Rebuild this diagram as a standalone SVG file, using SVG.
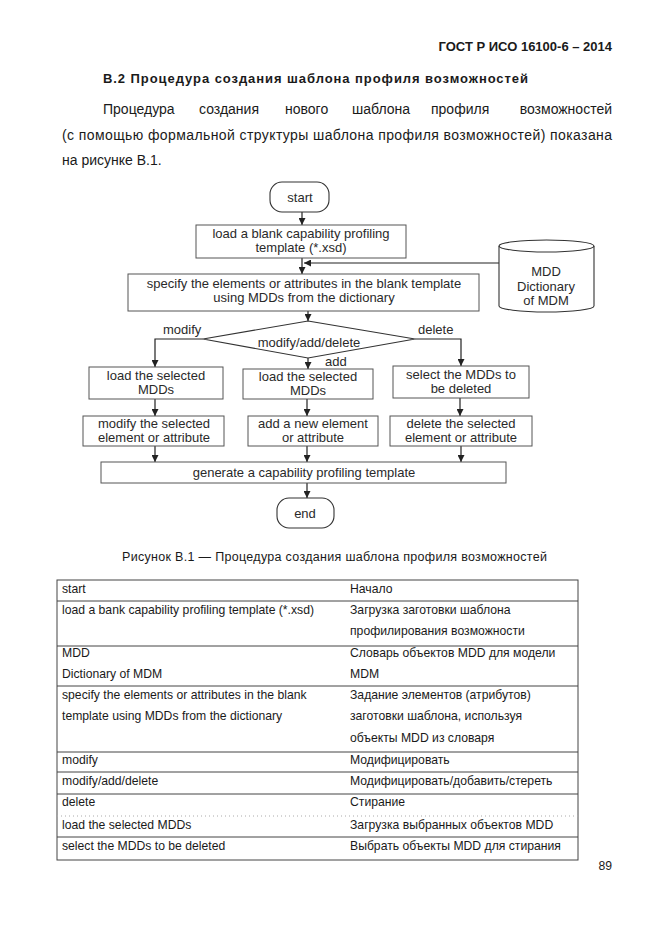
<svg xmlns="http://www.w3.org/2000/svg" width="661" height="935" viewBox="0 0 661 935">
<defs>
<marker id="ah" viewBox="0 0 10 10" refX="10" refY="5" markerWidth="7" markerHeight="7" markerUnits="userSpaceOnUse" orient="auto">
<path d="M0,0 L10,5 L0,10 z" fill="#222"/>
</marker>
</defs>
<style>
text{font-family:"Liberation Sans",Arial,sans-serif;fill:#1a1a1a}
.hd{font-weight:bold;font-size:13px}
.p{font-size:14px}
.f{font-size:13px;text-anchor:middle;fill:#2a2a2a}
.lb{font-size:13px;fill:#2a2a2a}
.t{font-size:12.2px}
.cap{font-size:12.5px}
.box{fill:#fff;stroke:#555;stroke-width:1}
.term{fill:#fff;stroke:#333;stroke-width:1.1}
.cn{fill:none;stroke:#222;stroke-width:1.2}
.tl{stroke:#444;stroke-width:1;fill:none}
</style>
<rect width="661" height="935" fill="#fff"/>
<text class="hd" x="612" y="51" text-anchor="end">ГОСТ Р ИСО 16100-6 – 2014</text>
<text class="hd" x="103" y="83" textLength="425" lengthAdjust="spacing">В.2  Процедура создания шаблона профиля возможностей</text>
<g class="p">
<text class="p" x="103" y="114">Процедура</text>
<text class="p" x="199" y="114">создания</text>
<text class="p" x="285" y="114">нового</text>
<text class="p" x="352" y="114">шаблона</text>
<text class="p" x="431" y="114">профиля</text>
<text class="p" x="612" y="114" text-anchor="end">возможностей</text>
<text class="p" x="62" y="140" textLength="550" lengthAdjust="spacing">(с помощью формальной структуры шаблона профиля возможностей) показана</text>
<text class="p" x="62" y="165">на рисунке В.1.</text>
</g>
<g id="connectors">
<line class="cn" x1="302" y1="212" x2="302" y2="225" marker-end="url(#ah)"/>
<line class="cn" x1="302" y1="258" x2="302" y2="274" marker-end="url(#ah)"/>
<line class="cn" x1="499" y1="263" x2="304" y2="263" stroke-width="1.6" marker-end="url(#ah)"/>
<line class="cn" x1="308" y1="311" x2="308" y2="321" marker-end="url(#ah)"/>
<polyline class="cn" points="203,339 155,339 155,367" marker-end="url(#ah)"/>
<polyline class="cn" points="415,339 461,339 461,366" marker-end="url(#ah)"/>
<line class="cn" x1="308" y1="358" x2="308" y2="369" marker-end="url(#ah)"/>
<line class="cn" x1="155" y1="399" x2="155" y2="416" marker-end="url(#ah)"/>
<line class="cn" x1="307" y1="399" x2="307" y2="416" marker-end="url(#ah)"/>
<line class="cn" x1="460" y1="398" x2="460" y2="416" marker-end="url(#ah)"/>
<line class="cn" x1="155" y1="446" x2="155" y2="462" marker-end="url(#ah)"/>
<line class="cn" x1="307" y1="446" x2="307" y2="462" marker-end="url(#ah)"/>
<line class="cn" x1="461" y1="446" x2="461" y2="462" marker-end="url(#ah)"/>
<line class="cn" x1="307" y1="483" x2="307" y2="498" marker-end="url(#ah)"/>
<text class="lb" x="163" y="334">modify</text>
<text class="lb" x="418" y="334">delete</text>
<text class="lb" x="325" y="366">add</text>
</g>
<g id="start">
<rect class="term" x="270" y="182" width="59" height="30" rx="12"/>
<text class="f" x="300" y="202">start</text>
</g>
<g id="load-blank">
<rect class="box" x="196" y="225" width="210" height="33"/>
<text class="f" x="301" y="238">load a blank capability profiling</text>
<text class="f" x="301" y="252">template (*.xsd)</text>
</g>
<g id="dictionary">
<path class="term" d="M499,246 A47.5,6 0 0 1 594,246 L594,306 A47.5,6 0 0 1 499,306 Z"/>
<path d="M499,246 A47.5,6 0 0 0 594,246" fill="none" stroke="#333" stroke-width="1.1"/>
<text class="f" x="546" y="276">MDD</text>
<text class="f" x="546" y="291">Dictionary</text>
<text class="f" x="546" y="305">of MDM</text>
</g>
<g id="specify">
<rect class="box" x="128" y="274" width="351" height="37"/>
<text class="f" x="304" y="288">specify the elements or attributes in the blank template</text>
<text class="f" x="304" y="302">using MDDs from the dictionary</text>
</g>
<g id="decision">
<polygon class="term" points="308,321 415,339 308,358 203,339"/>
<text class="f" x="309" y="347">modify/add/delete</text>
</g>
<g id="load-mod">
<rect class="box" x="89" y="367" width="134" height="32"/>
<text class="f" x="156" y="380">load the selected</text>
<text class="f" x="156" y="394">MDDs</text>
</g>
<g id="load-add">
<rect class="box" x="243" y="369" width="130" height="30"/>
<text class="f" x="308" y="381">load the selected</text>
<text class="f" x="308" y="395">MDDs</text>
</g>
<g id="select-del">
<rect class="box" x="393" y="366" width="136" height="32"/>
<text class="f" x="461" y="379">select the MDDs to</text>
<text class="f" x="461" y="393">be deleted</text>
</g>
<g id="modify-el">
<rect class="box" x="83" y="416" width="141" height="30"/>
<text class="f" x="154" y="428">modify the selected</text>
<text class="f" x="154" y="442">element or attribute</text>
</g>
<g id="add-el">
<rect class="box" x="248" y="416" width="130" height="30"/>
<text class="f" x="313" y="428">add a new element</text>
<text class="f" x="313" y="442">or attribute</text>
</g>
<g id="delete-el">
<rect class="box" x="390" y="416" width="142" height="30"/>
<text class="f" x="461" y="428">delete the selected</text>
<text class="f" x="461" y="442">element or attribute</text>
</g>
<g id="generate">
<rect class="box" x="101" y="462" width="405" height="21"/>
<text class="f" x="304" y="477">generate a capability profiling template</text>
</g>
<g id="end">
<rect class="term" x="277" y="498" width="57" height="30" rx="12"/>
<text class="f" x="305" y="518">end</text>
</g>
<text class="cap" x="122" y="561" textLength="425" lengthAdjust="spacing">Рисунок В.1 — Процедура создания шаблона профиля возможностей</text>
<g id="table">
<rect class="tl" x="57" y="580" width="521" height="280"/>
<line class="tl" x1="57" y1="601" x2="578" y2="601"/>
<line class="tl" x1="57" y1="646" x2="578" y2="646"/>
<line class="tl" x1="57" y1="686" x2="578" y2="686"/>
<line class="tl" x1="57" y1="752" x2="578" y2="752"/>
<line class="tl" x1="57" y1="772" x2="578" y2="772"/>
<line class="tl" x1="57" y1="794" x2="578" y2="794"/>
<line x1="57" y1="816" x2="578" y2="816" stroke="#aaa" stroke-width="1" stroke-dasharray="1,3"/>
<line class="tl" x1="57" y1="837" x2="578" y2="837"/>
<text class="t" x="62" y="593">start</text>
<text class="t" x="62" y="614">load a bank capability profiling template (*.xsd)</text>
<text class="t" x="62" y="657">MDD</text>
<text class="t" x="62" y="678">Dictionary of MDM</text>
<text class="t" x="62" y="699">specify the elements or attributes in the blank</text>
<text class="t" x="62" y="720">template using MDDs from the dictionary</text>
<text class="t" x="62" y="764">modify</text>
<text class="t" x="62" y="785">modify/add/delete</text>
<text class="t" x="62" y="806">delete</text>
<text class="t" x="62" y="829">load the selected MDDs</text>
<text class="t" x="62" y="850">select the MDDs to be deleted</text>
<text class="t" x="350" y="593">Начало</text>
<text class="t" x="350" y="614">Загрузка заготовки шаблона</text>
<text class="t" x="350" y="635">профилирования возможности</text>
<text class="t" x="350" y="657">Словарь объектов MDD для модели</text>
<text class="t" x="350" y="678">MDM</text>
<text class="t" x="350" y="699">Задание элементов (атрибутов)</text>
<text class="t" x="350" y="720">заготовки шаблона, используя</text>
<text class="t" x="350" y="742">объекты MDD из словаря</text>
<text class="t" x="350" y="764">Модифицировать</text>
<text class="t" x="350" y="785">Модифицировать/добавить/стереть</text>
<text class="t" x="350" y="806">Стирание</text>
<text class="t" x="350" y="829">Загрузка выбранных объектов MDD</text>
<text class="t" x="350" y="850">Выбрать объекты MDD для стирания</text>
</g>
<text class="t" x="612" y="870" text-anchor="end">89</text>
</svg>
